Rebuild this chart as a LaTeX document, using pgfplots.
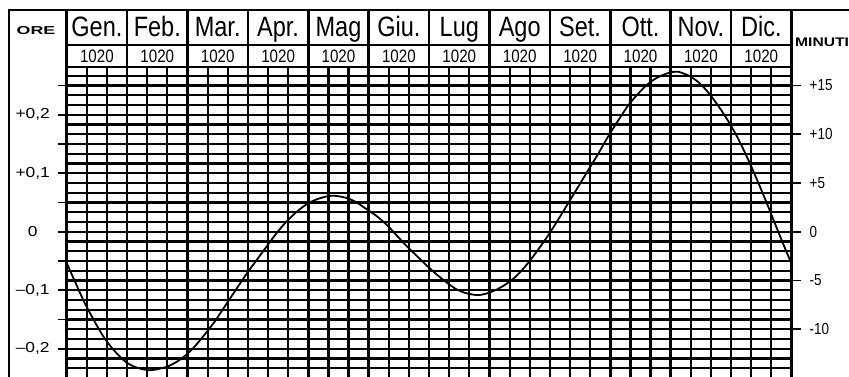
\documentclass[border=0pt]{standalone}
\usepackage{pgfplots}
\pgfplotsset{compat=1.18}
\usepackage{fontspec}
\setmainfont{Liberation Sans}
\newfontfamily\cond[FakeStretch=0.84]{Liberation Sans}
\newfontfamily\wide[FakeStretch=1.2, BoldFeatures={FakeStretch=1.25}]{Liberation Sans}
\newfontfamily\xwide[FakeStretch=1.55, BoldFeatures={FakeStretch=1.55}]{Liberation Sans}
\begin{document}
\begin{tikzpicture}[x=1pt,y=1pt]
\useasboundingbox (-66.7,0) rectangle (782.3,377);
\begin{axis}[at={(0,-10)}, anchor=south west, scale only axis,
  width=724.8pt, height=320pt,
  xmin=0, xmax=12, ymin=-15.897, ymax=16.923,
  xtick={0,...,12}, xticklabels={},
  minor xtick={0.333,0.667,1.333,1.667,2.333,2.667,3.333,3.667,4.333,4.667,5.333,5.667,6.333,6.667,7.333,7.667,8.333,8.667,9.333,9.667,10.333,10.667,11.333,11.667},
  ytick={-15,-12,...,15},
  yticklabels={,{–0,2},,{–0,1},,0,,{+0,1},,{+0,2},},
  minor ytick={-15,...,16},
  xmajorgrids=true, xminorgrids=true, yminorgrids=true, ymajorgrids=false,
  major grid style={black, line width=2.7pt},
  minor grid style={black, line width=2.2pt},
  axis line style={line width=2.4pt},
  xtick style={draw=none},
  ytick pos=left, tick align=outside,
  major tick length=9pt, minor tick length=0pt,
  ytick style={line width=1.8pt, black},
  yticklabel style={font=\wide\fontsize{14.5}{14.5}\selectfont, anchor=center, xshift=-25pt},
]
\addplot[black, line width=1.8pt, smooth] coordinates {
(0,-3.2) (0.129,-5.0) (0.290,-7.2) (0.452,-9.1) (0.613,-10.8) (0.774,-12.1) (0.968,-13.3)
(1.143,-13.9) (1.357,-14.2) (1.5,-14.1) (1.679,-13.8) (1.857,-13.2)
(2.0,-12.5) (2.129,-11.7) (2.290,-10.5) (2.452,-9.2) (2.613,-7.7) (2.774,-6.2) (2.968,-4.4)
(3.133,-3.0) (3.3,-1.6) (3.467,-0.2) (3.633,1.0) (3.8,2.0) (3.967,2.8)
(4.129,3.3) (4.290,3.6) (4.419,3.7) (4.613,3.5) (4.774,3.1) (4.968,2.3)
(5.133,1.6) (5.3,0.7) (5.467,-0.4) (5.633,-1.5) (5.8,-2.5) (5.967,-3.5)
(6.129,-4.4) (6.290,-5.2) (6.452,-5.9) (6.613,-6.3) (6.806,-6.5) (6.968,-6.3)
(7.129,-5.9) (7.290,-5.3) (7.452,-4.5) (7.613,-3.4) (7.774,-2.1) (7.968,-0.4)
(8.133,1.2) (8.3,2.9) (8.467,4.6) (8.633,6.3) (8.8,8.0) (8.967,9.8)
(9.129,11.4) (9.290,12.9) (9.452,14.1) (9.613,15.1) (9.774,15.8) (9.968,16.3)
(10.067,16.4) (10.133,16.4) (10.3,16.0) (10.467,15.3) (10.633,14.2) (10.8,12.8) (10.967,11.2)
(11.129,9.4) (11.290,7.3) (11.452,5.0) (11.613,2.6) (11.774,0.1) (11.968,-2.8) (12,-3.0)
};
\end{axis}
\begin{axis}[at={(0,-10)}, anchor=south west, scale only axis,
  width=724.8pt, height=320pt,
  xmin=0, xmax=12, ymin=-15.897, ymax=16.923,
  axis x line=none, axis y line*=right,
  axis line style={line width=2.4pt},
  ytick={-15,-10,...,15},
  yticklabels={,-10,-5,0,+5,+10,+15},
  tick align=outside, major tick length=9pt,
  ytick style={line width=1.8pt, black},
  yticklabel style={font=\cond\fontsize{16}{16}\selectfont, anchor=west, inner sep=0pt, xshift=9pt},
]
\end{axis}
% header and frame
\draw[line width=2.2pt] (-57.7,-2) -- (-57.7,367) -- (782.3,367);
\draw[line width=2.2pt] (0,332) -- (724.8,332);
\draw[line width=2.4pt] (0,310) -- (724.8,310);
\foreach \i in {0,...,12} \draw[line width=2.6pt] (\i*60.4,310) -- (\i*60.4,367);
\foreach \m [count=\i from 0] in {Gen.,Feb.,Mar.,Apr.,Mag,Giu.,Lug,Ago,Set.,Ott.,Nov.,Dic.}
  \node[anchor=base, inner sep=0pt] at ({(\i+0.5)*60.4},340) {\cond\fontsize{28}{28}\selectfont \m};
\foreach \i in {0,...,11}
  \node[anchor=base, inner sep=0pt] at ({(\i+0.5)*60.4},314.5) {\cond\fontsize{18}{18}\selectfont 1020};
\node[anchor=base, inner sep=0pt] at (-30.7,342) {\xwide\bfseries\fontsize{11.5}{11.5}\selectfont ORE};
\node[anchor=base west, inner sep=0pt] at (728.3,330) {\wide\bfseries\fontsize{12.5}{12.5}\selectfont MINUTI};
\end{tikzpicture}
\end{document}
